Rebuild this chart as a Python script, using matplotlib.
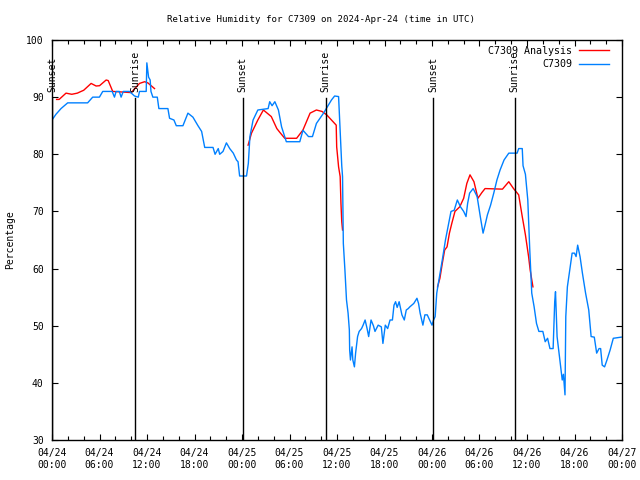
import numpy as np
import matplotlib
matplotlib.use("Agg")
import matplotlib.pyplot as plt

# station observations (hours since 04/24 00:00 UTC, percent)
obs_hours = [0, 0.5, 1.14, 1.98, 4.5, 5.14, 5.99, 6.41, 7.6, 7.89, 8.1, 8.5, 8.73, 9.0, 9.79,
             10.42, 10.9, 11.05, 11.9, 11.98, 12.2, 12.4, 12.5, 12.74, 13.3, 13.5, 14.64, 14.85,
             15.4, 15.7, 16.54, 17.17, 17.8, 18.44, 18.9, 19.29, 20.34, 20.6, 21.0, 21.18, 21.6,
             22.03, 22.45, 22.9, 23.3, 23.5, 23.7, 24.57, 24.8, 25.0, 25.4, 26.0, 27.3, 27.5,
             27.8, 28.15, 28.6, 29.0, 29.6, 31.3, 31.7, 32.4, 32.9, 33.4, 34.3, 34.9, 35.3, 35.7,
             36.2, 36.4, 36.6, 36.7, 36.8, 37.0, 37.2, 37.4, 37.56, 37.6, 37.7, 37.9, 38.0, 38.2,
             38.35, 38.6, 38.8, 39.1, 39.3, 39.55, 39.8, 40.0, 40.3, 40.6, 40.8, 41.2, 41.6, 41.8,
             42.1, 42.4, 42.7, 43.0, 43.2, 43.4, 43.6, 43.85, 44.2, 44.5, 44.75, 45.0, 45.2, 45.7,
             46.1, 46.3, 46.5, 46.85, 47.1, 47.4, 47.8, 48.0, 48.2, 48.4, 48.6, 48.8, 49.3, 49.7,
             50.1, 50.4, 50.8, 51.2, 51.6, 52.0, 52.3, 52.5, 52.75, 53.2, 53.7, 54.1, 54.45, 54.7,
             55.0, 55.4, 55.8, 56.2, 56.6, 57.1, 57.7, 58.75, 58.95, 59.4, 59.5, 59.8, 60.1,
             60.35, 60.6, 60.9, 61.2, 61.5, 62.0, 62.3, 62.6, 62.9, 63.3, 63.5, 63.6, 63.8, 64.2,
             64.45, 64.6, 64.8, 64.9, 65.1, 65.4, 65.7, 66.0, 66.2, 66.4, 66.7, 67.0, 67.4, 67.8,
             68.1, 68.5, 68.8, 69.1, 69.3, 69.5, 69.8, 70.1, 70.5, 70.9, 71.9]
obs_rh = [86.0, 87.0, 88.0, 89.0, 89.0, 90.0, 90.0, 91.0, 91.0, 90.0, 91.0, 91.0, 90.0, 91.0, 91.0,
          90.2, 90.0, 91.0, 91.0, 96.0, 93.5, 93.0, 91.0, 90.0, 90.0, 88.0, 88.0, 86.3,
          86.0, 85.0, 85.0, 87.2, 86.5, 85.0, 84.0, 81.2, 81.2, 80.0, 81.0, 80.0, 80.5,
          82.0, 81.0, 80.2, 79.0, 78.7, 76.2, 76.2, 78.4, 83.1, 86.0, 87.75, 88.0, 89.2,
          88.5, 89.2, 87.75, 84.8, 82.2, 82.2, 84.2, 83.1, 83.1, 85.4, 87.2, 88.6, 89.5, 90.2,
          90.1, 84.25, 78.0, 76.1, 64.4, 59.75, 54.5, 52.2, 49.25, 45.75, 44.0, 46.3, 44.0, 42.8,
          45.2, 48.1, 49.0, 49.5, 50.1, 51.0, 49.5, 48.1, 51.0, 50.0, 49.0, 50.1, 49.8, 46.9,
          50.1, 49.5, 51.0, 51.0, 53.6, 54.2, 53.2, 54.2, 51.9, 51.0, 52.75, 53.0, 53.3, 53.9,
          54.8, 53.9, 52.2, 50.1, 51.9, 51.9, 50.7, 50.1, 51.0, 51.6, 55.7, 57.4, 61.5, 65.0,
          67.9, 70.0, 70.2, 72.0, 70.8, 70.0, 69.1, 71.4, 73.2, 74.0, 72.6, 69.1, 66.2, 67.6,
          69.4, 71.1, 73.2, 75.5, 77.25, 79.0, 80.2, 80.2, 81.0, 81.0, 78.0, 76.5, 72.0,
          63.25, 55.7, 53.3, 50.4, 49.0, 49.0, 47.2, 47.8, 46.0, 46.0, 54.2, 55.95, 48.1, 43.4,
          40.5, 41.5, 37.9, 51.6, 56.8, 59.75, 62.7, 62.7, 62.1, 64.1, 62.1, 59.2, 55.7, 52.75,
          48.1, 48.0, 45.2, 46.0, 46.0, 43.1, 42.8, 44.0, 45.75, 47.8, 48.0]

# analysis (gaps between the three pieces)
ana_hours = [0.58, 0.9, 1.77, 2.5, 3.2, 3.67, 4.0, 4.94, 5.57, 6.0, 6.84, 7.1, 7.67, 10.0, 10.4,
             11.05, 11.7, 12.1, 12.95, 18.0,
             24.77, 25.2, 26.0, 26.7, 27.7, 28.4, 28.8, 29.4, 30.9, 31.7, 32.6, 33.4, 34.1, 34.7,
             35.3, 35.9, 35.96, 36.2, 36.4, 36.5, 36.6, 36.7, 42.0,
             48.7, 49.0, 49.3, 49.6, 49.9, 50.2, 50.5, 50.9, 51.5, 52.0, 52.4, 52.8, 53.3, 53.8,
             54.3, 54.7, 56.9, 57.7, 58.3, 58.95, 59.4, 59.8, 60.2, 60.4, 60.75]
ana_rh = [89.6, 89.6, 90.7, 90.5, 90.7, 91.0, 91.2, 92.4, 91.95, 92.0, 93.0, 92.9, 91.0, 90.8, 91.4,
          92.4, 92.7, 92.5, 91.5, np.nan,
          81.6, 83.7, 86.0, 87.75, 86.6, 84.5, 83.8, 82.8, 82.8, 84.25, 87.2, 87.75, 87.5, 86.9,
          86.0, 85.1, 81.3, 77.8, 76.1, 71.4, 68.2, 66.75, np.nan,
          56.8, 58.3, 60.9, 63.25, 63.8, 66.2, 67.9, 70.0, 70.8, 72.3, 74.9, 76.4, 75.2, 72.3,
          73.3, 74.0, 73.9, 75.2, 74.0, 72.9, 69.1, 65.9, 62.1, 59.75, 56.8]

sunset_hours = [0.05, 24.1, 48.15]
sunrise_hours = [10.5, 34.55, 58.45]

tick_hours = list(range(0, 73, 6))
tick_labels = ["04/24\n00:00", "04/24\n06:00", "04/24\n12:00", "04/24\n18:00",
               "04/25\n00:00", "04/25\n06:00", "04/25\n12:00", "04/25\n18:00",
               "04/26\n00:00", "04/26\n06:00", "04/26\n12:00", "04/26\n18:00",
               "04/27\n00:00"]

plt.rcParams['font.family'] = 'DejaVu Sans Mono'
plt.rcParams['font.size'] = 7

fig = plt.figure(figsize=(6.4, 4.8), dpi=100)
ax = fig.add_axes([52 / 640, 40 / 480, 570 / 640, 400 / 480])

ax.plot(ana_hours, ana_rh, color='#ff0000', lw=1.0, label='C7309 Analysis')
ax.plot(obs_hours, obs_rh, color='#0080ff', lw=1.0, label='C7309')

for h in sunset_hours:
    ax.plot([h, h], [30, 89.8], color='black', lw=1.0)
    ax.text(h, 90.9, 'Sunset', rotation=90, ha='center', va='bottom')
for h in sunrise_hours:
    ax.plot([h, h], [30, 89.8], color='black', lw=1.0)
    ax.text(h, 90.9, 'Sunrise', rotation=90, ha='center', va='bottom')

ax.set_xlim(0, 72)
ax.set_ylim(30, 100)
ax.set_xticks(tick_hours)
ax.set_xticklabels(tick_labels)
ax.set_xticks(range(0, 73, 2), minor=True)
ax.set_yticks(range(30, 101, 10))
ax.tick_params(which='both', direction='in', top=True, right=True, pad=6)
ax.tick_params(which='major', length=4.5, width=0.8)
ax.tick_params(which='minor', length=3, width=0.8)
for s in ax.spines.values():
    s.set_linewidth(1.0)

ax.set_ylabel('Percentage', labelpad=8)
fig.text(321 / 640, 1 - 19 / 480, 'Relative Humidity for C7309 on 2024-Apr-24 (time in UTC)',
         fontsize=6.6, ha='center', va='center')

ax.legend(loc='upper right', bbox_to_anchor=(1 - 7 / 570, 1), frameon=False, markerfirst=False,
          handlelength=3.0, borderaxespad=0.2, labelspacing=0.35, handletextpad=0.7,
          fontsize=7.2)

fig.savefig('out.png', dpi=100)
